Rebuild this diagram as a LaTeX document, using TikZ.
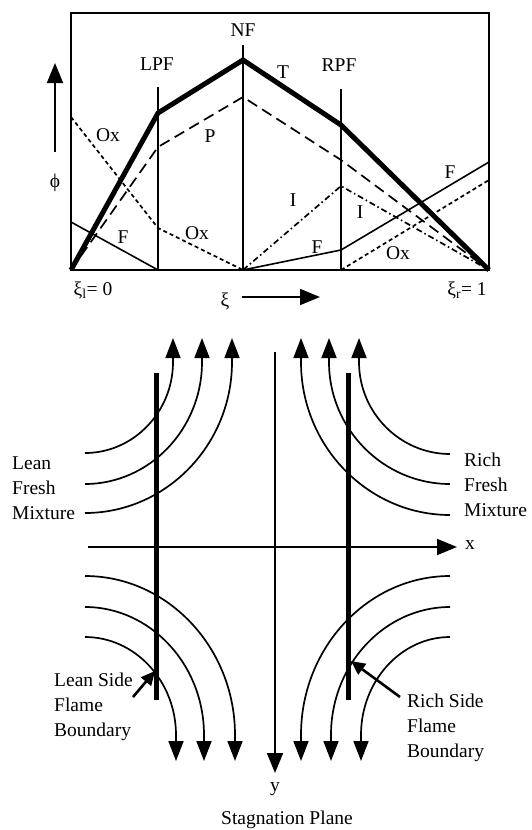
\documentclass[tikz,border=0pt]{standalone}
\usepackage{fontspec}
\setmainfont{Liberation Serif}
\usepackage{tikz}
\usetikzlibrary{arrows.meta}
\tikzset{
  lbl/.style={font=\fontsize{19.5}{25}\selectfont, inner sep=1pt},
  thinline/.style={line width=1.6pt},
  tline/.style={line width=5pt},
  pline/.style={line width=1.7pt, dash pattern=on 11pt off 6pt},
  oxline/.style={line width=1.7pt, dash pattern=on 4pt off 3pt},
  iline/.style={line width=1.7pt, dash pattern=on 6pt off 3pt on 1.5pt off 3pt},
  axisarrow/.style={line width=1.8pt, -{Triangle[length=20pt, width=16pt]}},
  flow/.style={line width=1.7pt, -{Triangle[length=20pt, width=15pt]}},
  boundary/.style={line width=5pt},
  pointer/.style={line width=2.6pt, -{Triangle[length=14pt, width=13pt]}},
}
\newcommand{\streamline}[5]{%
  \draw[flow] (#1,#2) .. controls ({#1+0.55*(#3-#1)},#2)
    and (#3,{#4+0.55*(#2-#4)}) .. (#3,#4) -- (#3,#5);
}

\begin{document}
\begin{tikzpicture}[x=1pt, y=-1pt]
  \useasboundingbox (0,0) rectangle (531,830);

  % profiles in mixture fraction space
  \draw[line width=2pt] (71,13) rectangle (489,270);
  \draw[thinline] (158,87) -- (158,270);
  \draw[thinline] (243,45) -- (243,270);
  \draw[thinline] (341,89) -- (341,270);

  \draw[oxline] (71,117) -- (158,228) -- (243,270);
  \draw[oxline] (341,270) -- (489,180);
  \draw[iline] (243,270) -- (341,186) -- (489,270);
  \draw[pline] (71,270) -- (158,147) -- (243,97) -- (341,160) -- (489,270);
  \draw[thinline] (71,222) -- (158,270);
  \draw[thinline] (243,270) -- (341,250) -- (489,162);
  \draw[tline] (71,270) -- (158,113) -- (243,60) -- (341,125) -- (489,270);

  \node[lbl] (lpf) at (157,64) {LPF};
  \node[lbl] (nf) at (243,30) {NF};
  \node[lbl] (rpf) at (339,65) {RPF};
  \node[lbl] (tlbl) at (283,72) {T};
  \node[lbl] (plbl) at (210,136) {P};
  \node[lbl] (ox1) at (108,135) {Ox};
  \node[lbl] (ox2) at (197,233) {Ox};
  \node[lbl] (ox3) at (398,253) {Ox};
  \node[lbl] (f1) at (123,237) {F};
  \node[lbl] (f2) at (317,247) {F};
  \node[lbl] (f3) at (450,172) {F};
  \node[lbl] (i1) at (293,200) {I};
  \node[lbl] (i2) at (360,212) {I};

  \node[lbl] (phi) at (55,183) {ϕ};
  \coordinate (phibase) at (55,152);
  \coordinate (phitop) at (55,63);
  \draw[axisarrow] (phibase) -- (phitop);

  \node[lbl] (xil) at (93,290) {ξ\textsubscript{l}= 0};
  \node[lbl] (xir) at (467,290) {ξ\textsubscript{r}= 1};
  \node[lbl] (xi) at (225,301) {ξ};
  \coordinate (xistart) at (242,297);
  \coordinate (xiend) at (320,297);
  \draw[axisarrow] (xistart) -- (xiend);

  % counterflow field
  \coordinate (xstart) at (88,547);
  \coordinate (xend) at (457,547);
  \coordinate (ystart) at (275,352);
  \coordinate (yend) at (275,773);
  \draw[axisarrow] (xstart) -- (xend);
  \draw[axisarrow] (ystart) -- (yend);
  \node[lbl] (xlbl) at (470,545) {x};
  \node[lbl] (ylbl) at (275,789) {y};
  \node[lbl] (stag) at (287,820) {Stagnation Plane};

  \draw[boundary] (156,373) -- (156,700);
  \draw[boundary] (348,373) -- (348,700);

  \streamline{85}{453}{173}{362}{338}
  \streamline{85}{484}{202}{362}{338}
  \streamline{85}{513}{232}{362}{338}
  \streamline{450}{454}{359}{362}{338}
  \streamline{450}{484}{329}{362}{338}
  \streamline{450}{515}{301}{362}{338}
  \streamline{85}{637}{176}{735}{761}
  \streamline{85}{607}{204}{735}{761}
  \streamline{85}{576}{235}{735}{761}
  \streamline{450}{637}{361}{735}{761}
  \streamline{450}{607}{331}{735}{761}
  \streamline{450}{576}{301}{735}{761}

  \node[lbl, anchor=west, align=left] (lean) at (11,488) {Lean\\Fresh\\Mixture};
  \node[lbl, anchor=west, align=left] (rich) at (463,485) {Rich\\Fresh\\Mixture};
  \node[lbl, anchor=west, align=left] (leanside) at (53,707) {Lean Side\\Flame\\Boundary};
  \node[lbl, anchor=west, align=left] (richside) at (406,728) {Rich Side\\Flame\\Boundary};

  \coordinate (leanfrom) at (133,697);
  \coordinate (leantip) at (155,671);
  \coordinate (richfrom) at (400,697);
  \coordinate (richtip) at (351,661);
  \draw[pointer] (leanfrom) -- (leantip);
  \draw[pointer] (richfrom) -- (richtip);

\end{tikzpicture}
\end{document}
